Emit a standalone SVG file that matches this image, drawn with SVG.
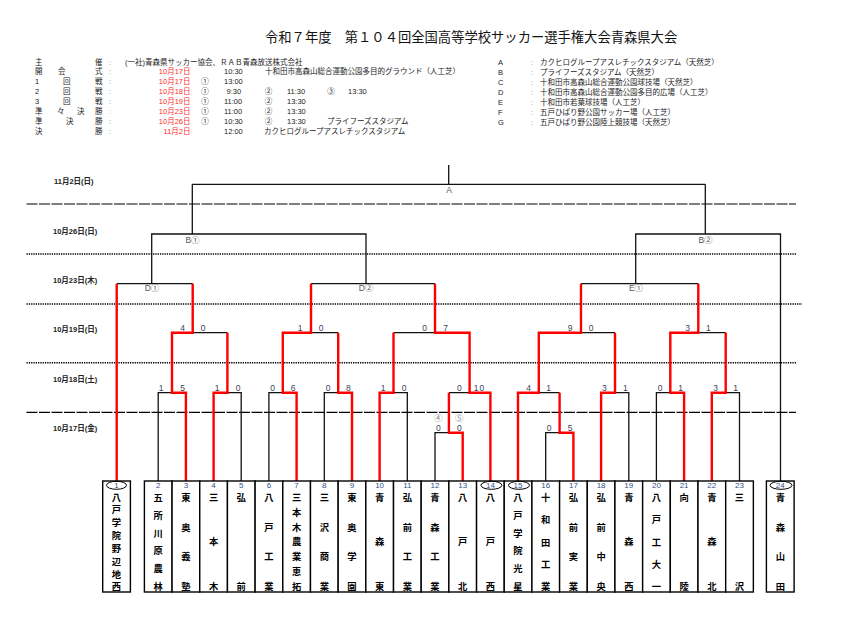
<svg xmlns="http://www.w3.org/2000/svg" width="864" height="623" viewBox="0 0 864 623">
<style>
text { font-family: "Liberation Sans", "Noto Sans CJK JP", sans-serif; }
.jp { font-family: "Noto Sans CJK JP", "Liberation Sans", sans-serif; }
.title { font-size: 13.3px; fill: #111; font-family: "Noto Sans CJK JP", sans-serif; }
.h { font-size: 7.5px; fill: #222; }
.hr { font-size: 7.5px; fill: #ff2a2a; text-anchor: end; }
.col { font-size: 7.5px; fill: #888; }
.mid { text-anchor: middle; }
.date { font-size: 7.5px; font-weight: bold; fill: #222; }
.sc { font-size: 8.5px; fill: #3a4258; text-anchor: middle; }
.pk { font-size: 8.5px; fill: #888; text-anchor: middle; }
.lbl { font-size: 8.5px; fill: #555; text-anchor: middle; }
.num { font-size: 8px; fill: #34508a; text-anchor: middle; }
.nm { font-size: 9.3px; font-weight: bold; fill: #000; text-anchor: middle; font-family: "Noto Sans CJK JP", sans-serif; }
.box { fill: #fff; stroke: #000; stroke-width: 1.4; }
.bk { fill: none; stroke: #111; stroke-width: 1.3; }
.rd { fill: none; stroke: #ff0000; stroke-width: 2.4; stroke-linejoin: miter; }
.dash { stroke: #000; stroke-width: 1.2; stroke-dasharray: 11 1.5; }
.dot { stroke: #000; stroke-width: 1.6; stroke-dasharray: 1.3 1; }
.seed { fill: none; stroke: #000; stroke-width: 1; }
</style>
<rect width="864" height="623" fill="#fff"/>

<g id="header">
<text class="title" x="265" y="41.5">令和７年度　第１０４回全国高等学校サッカー選手権大会青森県大会</text>
<g class="h jp">
<text x="35" y="64.5">主</text><text x="95" y="64.5">催</text>
<text x="125" y="64.5">(一社)青森県サッカー協会、ＲＡＢ青森放送株式会社</text>
<text x="35" y="73.5">開</text><text x="58" y="73.5">会</text><text x="95" y="73.5">式</text>
<text x="224" y="73.5">10:30</text><text x="265" y="73.5">十和田市高森山総合運動公園多目的グラウンド（人工芝）</text>
<text x="35" y="83.5">1</text><text x="63" y="83.5">回</text><text x="95" y="83.5">戦</text>
<text x="224" y="83.5">13:00</text>
<text x="35" y="93.5">2</text><text x="63" y="93.5">回</text><text x="95" y="93.5">戦</text>
<text x="226.5" y="93.5">9:30</text><text x="287" y="93.5">11:30</text><text x="348" y="93.5">13:30</text>
<text x="35" y="103.5">3</text><text x="63" y="103.5">回</text><text x="95" y="103.5">戦</text>
<text x="224" y="103.5">11:00</text><text x="287" y="103.5">13:30</text>
<text x="35" y="113.5">準</text><text x="57" y="113.5">々</text><text x="77" y="113.5">決</text><text x="95" y="113.5">勝</text>
<text x="224" y="113.5">11:00</text><text x="287" y="113.5">13:30</text>
<text x="35" y="123.5">準</text><text x="66" y="123.5">決</text><text x="95" y="123.5">勝</text>
<text x="224" y="123.5">10:30</text><text x="287" y="123.5">13:30</text><text x="327" y="123.5">プライフーズスタジアム</text>
<text x="35" y="133.5">決</text><text x="95" y="133.5">勝</text>
<text x="224" y="133.5">12:00</text><text x="264" y="133.5">カクヒログループアスレチックスタジアム</text>
<text class="mid" x="205" y="83.5">①</text>
<text class="mid" x="205" y="93.5">①</text><text class="mid" x="268.5" y="93.5">②</text><text class="mid" x="331" y="93.5">③</text>
<text class="mid" x="205" y="103.5">①</text><text class="mid" x="268.5" y="103.5">②</text>
<text class="mid" x="205" y="113.5">①</text><text class="mid" x="268.5" y="113.5">②</text>
<text class="mid" x="205" y="123.5">①</text><text class="mid" x="268.5" y="123.5">②</text>
</g>
<g class="col">
<text x="109" y="64.5">:</text><text x="109" y="73.5">:</text><text x="109" y="83.5">:</text><text x="109" y="93.5">:</text>
<text x="109" y="103.5">:</text><text x="109" y="113.5" fill="#f08080">:</text><text x="109" y="123.5">:</text><text x="109" y="133.5">:</text>
</g>
<g class="hr">
<text x="190.5" y="73.5">10月17日</text>
<text x="190.5" y="83.5">10月17日</text>
<text x="190.5" y="93.5">10月18日</text>
<text x="190.5" y="103.5">10月19日</text>
<text x="190.5" y="113.5">10月23日</text>
<text x="190.5" y="123.5">10月26日</text>
<text x="190.5" y="133.5">11月2日</text>
</g>
<g class="h">
<text x="498" y="65">A</text><text x="498" y="75">B</text><text x="498" y="85">C</text><text x="498" y="95">D</text>
<text x="498" y="105">E</text><text x="498" y="115">F</text><text x="498" y="125">G</text>
</g>
<g class="col">
<text x="531" y="65">:</text><text x="531" y="75">:</text><text x="531" y="85">:</text><text x="531" y="95">:</text>
<text x="531" y="105">:</text><text x="531" y="115">:</text><text x="531" y="125">:</text>
</g>
<g class="h jp">
<text x="540" y="65">カクヒログループアスレチックスタジアム（天然芝）</text>
<text x="540" y="75">プライフーズスタジアム（天然芝）</text>
<text x="540" y="85">十和田市高森山総合運動公園球技場（天然芝）</text>
<text x="540" y="95">十和田市高森山総合運動公園多目的広場（人工芝）</text>
<text x="540" y="105">十和田市若葉球技場（人工芝）</text>
<text x="540" y="115">五戸ひばり野公園サッカー場（人工芝）</text>
<text x="540" y="125">五戸ひばり野公園陸上競技場（天然芝）</text>
</g>
</g>

<g id="rounds">
<text class="date" x="54" y="184">11月2日(日)</text>
<text class="date" x="53" y="233.5">10月26日(日)</text>
<text class="date" x="53" y="283">10月23日(木)</text>
<text class="date" x="53" y="332">10月19日(日)</text>
<text class="date" x="53" y="382">10月18日(土)</text>
<text class="date" x="53" y="431">10月17日(金)</text>
<line class="dash" x1="26.5" y1="204" x2="796" y2="204"/>
<line class="dot" x1="26.5" y1="254" x2="796" y2="254"/>
<line class="dot" x1="26.5" y1="304" x2="802" y2="304"/>
<line class="dot" x1="26.5" y1="362.7" x2="796" y2="362.7"/>
<line class="dash" x1="26.5" y1="412.3" x2="796" y2="412.3"/>
</g>

<g id="connectors">
<path class="bk" d="M158.2 481V392.7H172 M241.2 481V392.7H227.4 M268.9 481V392.7H282.8 M324.3 481V392.7H338.2 M407.3 481V392.7H393.5 M435 481V432.7H448.9 M448.9 392.7H469.6 M393.5 332.7H435 M545.7 481V432.7H559.6 M538.8 392.7H559.6 M628.8 481V392.7H615 M581 332.7H615 M656.4 481V392.7H670.3 M739.5 481V392.7H725.7 M698.3 332.7H725.7 M192.7 332.7H227.4 M311 332.7H338.2 M116.7 283.7H192.7 M311 283.7H435 M581 283.7H698.3 M151.7 283.7V234H366V283.7 M192.3 234V184.3 M635.7 283.7V234H780.5V481 M705.3 234V184.3 M192.3 184.3H705.3 M448.7 165V184.3"/>
<path class="rd" d="M116.7 481V283.7 M185.9 481V392.7H172V332.7H192.7V283.7 M213.6 481V392.7H227.4V332.7 M296.6 481V392.7H282.8V332.7H311V283.7 M352 481V392.7H338.2V332.7 M379.6 481V392.7H393.5V332.7 M462.7 481V432.7H448.9V392.7 M490.4 481V392.7H469.6V332.7H435V283.7 M518 481V392.7H538.8V332.7H581V283.7 M573.4 481V432.7H559.6V392.7 M601.1 481V392.7H615V332.7 M684.1 481V392.7H670.3V332.7H698.3V283.7 M711.8 481V392.7H725.7V332.7"/>
</g>

<g id="labels">
<text class="lbl" x="449" y="193">A</text>
<text class="lbl" x="192.5" y="243">B①</text>
<text class="lbl" x="705.5" y="243">B②</text>
<text class="lbl" x="152" y="291">D①</text>
<text class="lbl" x="366" y="291">D②</text>
<text class="lbl" x="636" y="291">E①</text>
</g>

<g id="scores">
<text class="sc" x="182.7" y="331">4</text><text class="sc" x="203" y="331">0</text>
<text class="sc" x="300" y="331">1</text><text class="sc" x="321" y="331">0</text>
<text class="sc" x="424.7" y="331">0</text><text class="sc" x="445.7" y="331">7</text>
<text class="sc" x="570" y="331">9</text><text class="sc" x="591" y="331">0</text>
<text class="sc" x="687.7" y="331">3</text><text class="sc" x="708.3" y="331">1</text>
<text class="sc" x="161" y="390.5">1</text><text class="sc" x="182.7" y="390.5">5</text>
<text class="sc" x="217" y="390.5">1</text><text class="sc" x="238" y="390.5">0</text>
<text class="sc" x="272.7" y="390.5">0</text><text class="sc" x="293" y="390.5">6</text>
<text class="sc" x="328" y="390.5">0</text><text class="sc" x="348.3" y="390.5">8</text>
<text class="sc" x="383" y="390.5">1</text><text class="sc" x="404" y="390.5">0</text>
<text class="sc" x="459.3" y="390.5">0</text><text class="sc" x="479.5" y="390.5" letter-spacing="1">10</text>
<text class="sc" x="528.7" y="390.5">4</text><text class="sc" x="548.7" y="390.5">1</text>
<text class="sc" x="604.3" y="390.5">3</text><text class="sc" x="625.3" y="390.5">1</text>
<text class="sc" x="660" y="390.5">0</text><text class="sc" x="680.7" y="390.5">1</text>
<text class="sc" x="715.7" y="390.5">3</text><text class="sc" x="735.7" y="390.5">1</text>
<text class="pk" x="438.3" y="421">④</text><text class="pk" x="459.3" y="421">⑤</text>
<text class="sc" x="438.3" y="430.5">0</text><text class="sc" x="459.3" y="430.5">0</text>
<text class="sc" x="549" y="430.5">0</text><text class="sc" x="570" y="430.5">5</text>
</g>

<g id="team1"><rect class="box" x="102.7" y="481" width="27.7" height="111"/><ellipse class="seed" cx="116.5" cy="485.3" rx="10" ry="4"/><text class="num" x="116.5" y="488.2">1</text><text class="nm"><tspan x="116.5" y="500.6">八</tspan><tspan x="116.5" y="513.4">戸</tspan><tspan x="116.5" y="526.2">学</tspan><tspan x="116.5" y="539">院</tspan><tspan x="116.5" y="551.8">野</tspan><tspan x="116.5" y="564.7">辺</tspan><tspan x="116.5" y="577.5">地</tspan><tspan x="116.5" y="590.3">西</tspan></text></g>
<g id="team2"><rect class="box" x="144.4" y="481" width="27.68" height="111"/><text class="num" x="158.2" y="488.2">2</text><text class="nm"><tspan x="158.2" y="500.6">五</tspan><tspan x="158.2" y="518.5">所</tspan><tspan x="158.2" y="536.5">川</tspan><tspan x="158.2" y="554.4">原</tspan><tspan x="158.2" y="572.4">農</tspan><tspan x="158.2" y="590.3">林</tspan></text></g>
<g id="team3"><rect class="box" x="172.08" y="481" width="27.68" height="111"/><text class="num" x="185.9" y="488.2">3</text><text class="nm"><tspan x="185.9" y="500.6">東</tspan><tspan x="185.9" y="530.5">奥</tspan><tspan x="185.9" y="560.4">義</tspan><tspan x="185.9" y="590.3">塾</tspan></text></g>
<g id="team4"><rect class="box" x="199.76" y="481" width="27.68" height="111"/><text class="num" x="213.6" y="488.2">4</text><text class="nm"><tspan x="213.6" y="500.6">三</tspan><tspan x="213.6" y="545.45">本</tspan><tspan x="213.6" y="590.3">木</tspan></text></g>
<g id="team5"><rect class="box" x="227.44" y="481" width="27.68" height="111"/><text class="num" x="241.2" y="488.2">5</text><text class="nm"><tspan x="241.2" y="500.6">弘</tspan><tspan x="241.2" y="590.3">前</tspan></text></g>
<g id="team6"><rect class="box" x="255.12" y="481" width="27.68" height="111"/><text class="num" x="268.9" y="488.2">6</text><text class="nm"><tspan x="268.9" y="500.6">八</tspan><tspan x="268.9" y="530.5">戸</tspan><tspan x="268.9" y="560.4">工</tspan><tspan x="268.9" y="590.3">業</tspan></text></g>
<g id="team7"><rect class="box" x="282.8" y="481" width="27.68" height="111"/><text class="num" x="296.6" y="488.2">7</text><text class="nm"><tspan x="296.6" y="500.6">三</tspan><tspan x="296.6" y="515.55">本</tspan><tspan x="296.6" y="530.5">木</tspan><tspan x="296.6" y="545.45">農</tspan><tspan x="296.6" y="560.4">業</tspan><tspan x="296.6" y="575.35">恵</tspan><tspan x="296.6" y="590.3">拓</tspan></text></g>
<g id="team8"><rect class="box" x="310.48" y="481" width="27.68" height="111"/><text class="num" x="324.3" y="488.2">8</text><text class="nm"><tspan x="324.3" y="500.6">三</tspan><tspan x="324.3" y="530.5">沢</tspan><tspan x="324.3" y="560.4">商</tspan><tspan x="324.3" y="590.3">業</tspan></text></g>
<g id="team9"><rect class="box" x="338.16" y="481" width="27.68" height="111"/><text class="num" x="352" y="488.2">9</text><text class="nm"><tspan x="352" y="500.6">東</tspan><tspan x="352" y="530.5">奥</tspan><tspan x="352" y="560.4">学</tspan><tspan x="352" y="590.3">園</tspan></text></g>
<g id="team10"><rect class="box" x="365.84" y="481" width="27.68" height="111"/><text class="num" x="379.6" y="488.2">10</text><text class="nm"><tspan x="379.6" y="500.6">青</tspan><tspan x="379.6" y="545.45">森</tspan><tspan x="379.6" y="590.3">東</tspan></text></g>
<g id="team11"><rect class="box" x="393.52" y="481" width="27.68" height="111"/><text class="num" x="407.3" y="488.2">11</text><text class="nm"><tspan x="407.3" y="500.6">弘</tspan><tspan x="407.3" y="530.5">前</tspan><tspan x="407.3" y="560.4">工</tspan><tspan x="407.3" y="590.3">業</tspan></text></g>
<g id="team12"><rect class="box" x="421.2" y="481" width="27.68" height="111"/><text class="num" x="435" y="488.2">12</text><text class="nm"><tspan x="435" y="500.6">青</tspan><tspan x="435" y="530.5">森</tspan><tspan x="435" y="560.4">工</tspan><tspan x="435" y="590.3">業</tspan></text></g>
<g id="team13"><rect class="box" x="448.88" y="481" width="27.68" height="111"/><text class="num" x="462.7" y="488.2">13</text><text class="nm"><tspan x="462.7" y="500.6">八</tspan><tspan x="462.7" y="545.45">戸</tspan><tspan x="462.7" y="590.3">北</tspan></text></g>
<g id="team14"><rect class="box" x="476.56" y="481" width="27.68" height="111"/><ellipse class="seed" cx="491.4" cy="485.3" rx="10.5" ry="4"/><text class="num" x="490.4" y="488.2">14</text><text class="nm"><tspan x="490.4" y="500.6">八</tspan><tspan x="490.4" y="545.45">戸</tspan><tspan x="490.4" y="590.3">西</tspan></text></g>
<g id="team15"><rect class="box" x="504.24" y="481" width="27.68" height="111"/><ellipse class="seed" cx="519" cy="485.3" rx="10.5" ry="4"/><text class="num" x="518" y="488.2">15</text><text class="nm"><tspan x="518" y="500.6">八</tspan><tspan x="518" y="518.5">戸</tspan><tspan x="518" y="536.5">学</tspan><tspan x="518" y="554.4">院</tspan><tspan x="518" y="572.4">光</tspan><tspan x="518" y="590.3">星</tspan></text></g>
<g id="team16"><rect class="box" x="531.92" y="481" width="27.68" height="111"/><text class="num" x="545.7" y="488.2">16</text><text class="nm"><tspan x="545.7" y="500.6">十</tspan><tspan x="545.7" y="523">和</tspan><tspan x="545.7" y="545.5">田</tspan><tspan x="545.7" y="567.9">工</tspan><tspan x="545.7" y="590.3">業</tspan></text></g>
<g id="team17"><rect class="box" x="559.6" y="481" width="27.68" height="111"/><text class="num" x="573.4" y="488.2">17</text><text class="nm"><tspan x="573.4" y="500.6">弘</tspan><tspan x="573.4" y="530.5">前</tspan><tspan x="573.4" y="560.4">実</tspan><tspan x="573.4" y="590.3">業</tspan></text></g>
<g id="team18"><rect class="box" x="587.28" y="481" width="27.68" height="111"/><text class="num" x="601.1" y="488.2">18</text><text class="nm"><tspan x="601.1" y="500.6">弘</tspan><tspan x="601.1" y="530.5">前</tspan><tspan x="601.1" y="560.4">中</tspan><tspan x="601.1" y="590.3">央</tspan></text></g>
<g id="team19"><rect class="box" x="614.96" y="481" width="27.68" height="111"/><text class="num" x="628.8" y="488.2">19</text><text class="nm"><tspan x="628.8" y="500.6">青</tspan><tspan x="628.8" y="545.45">森</tspan><tspan x="628.8" y="590.3">西</tspan></text></g>
<g id="team20"><rect class="box" x="642.64" y="481" width="27.68" height="111"/><text class="num" x="656.4" y="488.2">20</text><text class="nm"><tspan x="656.4" y="500.6">八</tspan><tspan x="656.4" y="523">戸</tspan><tspan x="656.4" y="545.5">工</tspan><tspan x="656.4" y="567.9">大</tspan><tspan x="656.4" y="590.3">一</tspan></text></g>
<g id="team21"><rect class="box" x="670.32" y="481" width="27.68" height="111"/><text class="num" x="684.1" y="488.2">21</text><text class="nm"><tspan x="684.1" y="500.6">向</tspan><tspan x="684.1" y="590.3">陵</tspan></text></g>
<g id="team22"><rect class="box" x="698" y="481" width="27.68" height="111"/><text class="num" x="711.8" y="488.2">22</text><text class="nm"><tspan x="711.8" y="500.6">青</tspan><tspan x="711.8" y="545.45">森</tspan><tspan x="711.8" y="590.3">北</tspan></text></g>
<g id="team23"><rect class="box" x="725.68" y="481" width="27.68" height="111"/><text class="num" x="739.5" y="488.2">23</text><text class="nm"><tspan x="739.5" y="500.6">三</tspan><tspan x="739.5" y="590.3">沢</tspan></text></g>
<g id="team24"><rect class="box" x="766.4" y="481" width="27.7" height="111"/><ellipse class="seed" cx="781" cy="485.3" rx="11" ry="4"/><text class="num" x="780.3" y="488.2">24</text><text class="nm"><tspan x="780.3" y="500.6">青</tspan><tspan x="780.3" y="530.5">森</tspan><tspan x="780.3" y="560.4">山</tspan><tspan x="780.3" y="590.3">田</tspan></text></g>
</svg>
